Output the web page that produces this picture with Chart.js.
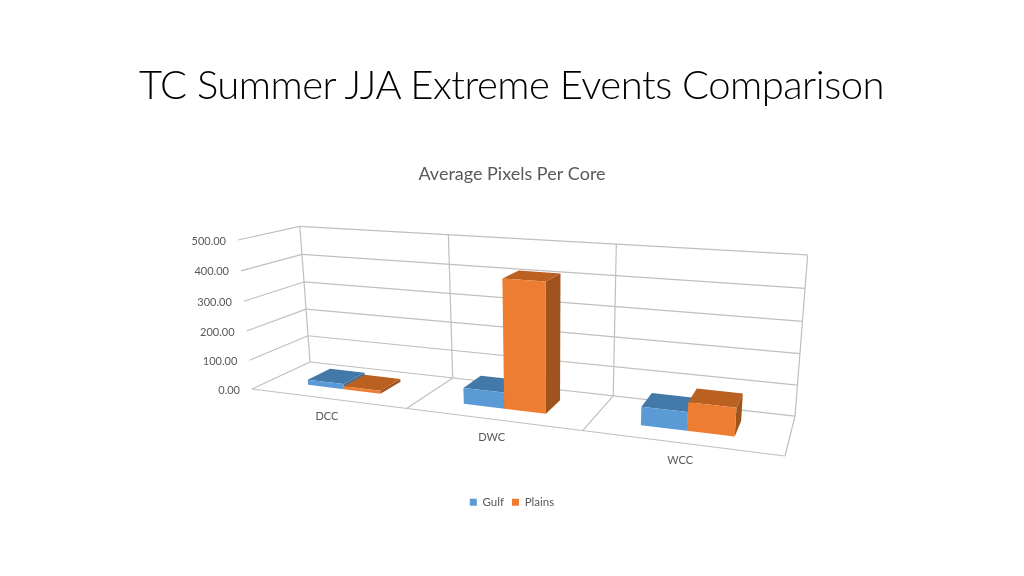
<!DOCTYPE html>
<html>
<head>
<meta charset="utf-8">
<title>TC Summer JJA Extreme Events Comparison</title>
<script src="https://cdn.jsdelivr.net/npm/chart.js@4/dist/chart.umd.min.js"></script>
<style>
  html, body { margin: 0; padding: 0; background: #fff; }
  #wrap { position: relative; width: 1024px; height: 576px; overflow: hidden; }
  h1 {
    position: absolute; left: 139px; top: 60px; margin: 0;
    font: 300 40px Lato, sans-serif; letter-spacing: -0.5px; color: #000; white-space: nowrap;
  }
  canvas { position: absolute; left: 0; top: 0; }
</style>
</head>
<body>
<div id="wrap">
  <canvas id="myChart" width="1024" height="576"></canvas>
  <h1>TC Summer JJA Extreme Events Comparison</h1>
</div>
<script>
const categories = ['DCC', 'DWC', 'WCC']
const gulfValues = [18, 53, 58]
const plainsValues = [10, 415, 88]
const yTickValues = [0, 100, 200, 300, 400, 500]

// colours for front, top and side of the boxes
const gulfShades = ['#5B9BD5', '#4379A8', '#3F6F9C']
const plainsShades = ['#ED7D31', '#BA6020', '#A0531C']
const gridColor = '#BFBFBF'
const textColor = '#595959'

// the camera: images of the box corners and the perspective terms
const origin = [252, 389]    // value 0, front left
const rightEnd = [785, 456]  // value 0, front right
const topEnd = [238, 240]    // value max, front left
const backEnd = [310, 362]   // value 0, back left
const persp = [-0.183, -0.045, 0.1027]
// bars stand between these depths, 0 is the front of the floor
const barDepth = [0.3, 0.705]

// u along categories, v along values, w into the depth, all 0..1
function project(u, v, w) {
    const d = 1 + persp[0] * u + persp[1] * v + persp[2] * w
    const out = [0, 1].map(function(i) {
        return origin[i]
            + (rightEnd[i] * (1 + persp[0]) - origin[i]) * u
            + (topEnd[i] * (1 + persp[1]) - origin[i]) * v
            + (backEnd[i] * (1 + persp[2]) - origin[i]) * w
    })
    return [out[0] / d, out[1] / d]
}

function line(ctx, a, b) {
    ctx.beginPath()
    ctx.moveTo(a[0], a[1])
    ctx.lineTo(b[0], b[1])
    ctx.stroke()
}

function face(ctx, pts, color) {
    ctx.fillStyle = color
    ctx.beginPath()
    pts.forEach(function(p, i) {
        if (i == 0) ctx.moveTo(p[0], p[1])
        else ctx.lineTo(p[0], p[1])
    })
    ctx.closePath()
    ctx.fill()
}

function drawFrame(chart) {
    const ctx = chart.ctx
    const yScale = chart.scales.y
    const n = categories.length

    ctx.strokeStyle = gridColor
    ctx.lineWidth = 1.2

    yScale.ticks.forEach(function(t) {
        const v = (yScale.bottom - yScale.getPixelForValue(t.value)) / yScale.height
        line(ctx, project(0, v, 0), project(0, v, 1))
        line(ctx, project(0, v, 1), project(1, v, 1))
    })
    for (let k = 1; k <= n; k++) {
        line(ctx, project(k / n, 0, 1), project(k / n, 1, 1))
        line(ctx, project(k / n, 0, 0), project(k / n, 0, 1))
    }
    line(ctx, project(0, 0, 0), project(1, 0, 0))
    line(ctx, project(0, 0, 1), project(0, 1, 1))

    ctx.font = '11px Lato, sans-serif'
    ctx.fillStyle = textColor
    ctx.textAlign = 'right'
    ctx.textBaseline = 'middle'
    yScale.ticks.forEach(function(t) {
        const v = (yScale.bottom - yScale.getPixelForValue(t.value)) / yScale.height
        const p = project(0, v, 0)
        ctx.fillText(t.label, p[0] - 12, p[1] + 1)
    })
    ctx.textAlign = 'center'
    categories.forEach(function(c, i) {
        const p = project((i + 0.5) / n, 0, 0)
        ctx.fillText(c, p[0], p[1] + 18)
    })
}

function drawBars(chart) {
    const ctx = chart.ctx
    const xScale = chart.scales.x
    const yScale = chart.scales.y
    const shades = [gulfShades, plainsShades]
    const w0 = barDepth[0]
    const w1 = barDepth[1]

    categories.forEach(function(c, i) {
        shades.forEach(function(shade, s) {
            const el = chart.getDatasetMeta(s).data[i]
            const u0 = (el.x - el.width / 2 - xScale.left) / xScale.width
            const u1 = (el.x + el.width / 2 - xScale.left) / xScale.width
            const v = (yScale.bottom - el.y) / yScale.height
            face(ctx, [project(u1, 0, w0), project(u1, 0, w1), project(u1, v, w1), project(u1, v, w0)], shade[2])
            face(ctx, [project(u0, v, w0), project(u1, v, w0), project(u1, v, w1), project(u0, v, w1)], shade[1])
            face(ctx, [project(u0, 0, w0), project(u1, 0, w0), project(u1, v, w0), project(u0, v, w0)], shade[0])
        })
    })
}

const box3d = {
    id: 'box3d',
    beforeDatasetsDraw(chart) {
        drawFrame(chart)
        drawBars(chart)
        return false
    }
}

new Chart(document.getElementById('myChart'), {
    type: 'bar',
    plugins: [box3d],
    data: {
        labels: categories,
        datasets: [
            { label: 'Gulf', data: gulfValues, backgroundColor: gulfShades[0] },
            { label: 'Plains', data: plainsValues, backgroundColor: plainsShades[0] }
        ]
    },
    options: {
        responsive: false,
        animation: false,
        layout: { padding: { top: 163, bottom: 58 } },
        datasets: { bar: { categoryPercentage: 0.48, barPercentage: 1 } },
        scales: {
            x: { display: false },
            y: {
                display: false,
                min: 0,
                max: 500,
                afterBuildTicks(scale) {
                    scale.ticks = yTickValues.map(v => ({ value: v }))
                },
                ticks: { callback: v => v.toFixed(2) }
            }
        },
        plugins: {
            title: {
                display: true,
                text: 'Average Pixels Per Core',
                color: textColor,
                font: { family: 'Lato, sans-serif', size: 18, weight: 'normal' },
                padding: { top: 0, bottom: 0 }
            },
            legend: {
                position: 'bottom',
                labels: {
                    color: textColor,
                    boxWidth: 7,
                    boxHeight: 7,
                    padding: 8,
                    font: { family: 'Lato, sans-serif', size: 11.5 }
                }
            },
            tooltip: { enabled: false }
        }
    }
})
</script>
</body>
</html>
